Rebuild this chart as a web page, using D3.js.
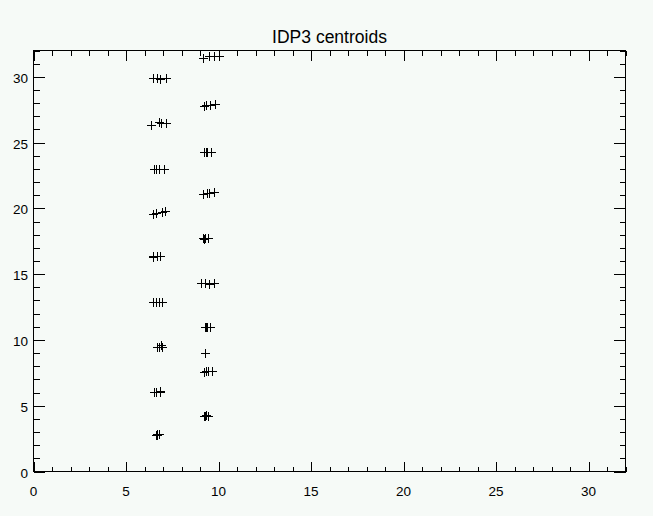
<!DOCTYPE html>
<html>
<head>
<meta charset="utf-8">
<script src="https://cdn.jsdelivr.net/npm/d3@7/dist/d3.min.js"></script>
<style>
  html, body { margin: 0; padding: 0; background: #f6faf7; }
  svg { display: block; }
  text { font-family: "Liberation Sans", "DejaVu Sans", sans-serif; fill: #000; }
</style>
</head>
<body>
<svg id="chart" width="653" height="516"></svg>
<script>
// ---- data ----
const title = "IDP3 centroids";
const xTickValues = [0, 5, 10, 15, 20, 25, 30];
const yTickValues = [0, 5, 10, 15, 20, 25, 30];
const xDomain = [0, 32];
const yDomain = [0, 32];

// left column of centroids
const leftX = [6.45, 6.70, 6.82, 7.17,  6.35, 6.76, 6.89, 7.17,  6.49, 6.63, 6.79, 7.08,
               6.45, 6.63, 6.94, 7.12,  6.45, 6.48, 6.67, 6.85,  6.45, 6.62, 6.79, 6.97,
               6.67, 6.81, 6.89, 6.95,  6.52, 6.63, 6.85, 6.83,  6.60, 6.67, 6.76, 6.70];
const leftY = [29.88, 29.90, 29.86, 29.90,  26.36, 26.55, 26.50, 26.48,  23.02, 23.00, 23.03, 23.02,
               19.60, 19.63, 19.72, 19.82,  16.36, 16.32, 16.38, 16.36,  12.89, 12.90, 12.88, 12.90,
               9.48, 9.50, 9.60, 9.46,      6.03, 6.06, 6.10, 6.04,      2.80, 2.88, 2.86, 2.75];

// right column of centroids
const rightX = [9.14, 9.46, 9.73, 10.00,  9.19, 9.32, 9.55, 9.82,  9.19, 9.30, 9.37, 9.59,
                9.14, 9.37, 9.50, 9.78,   9.14, 9.28, 9.43, 9.20,  9.06, 9.28, 9.50, 9.73,
                9.28, 9.30, 9.55, 9.40,   9.28,
                9.19, 9.32, 9.43, 9.64,   9.19, 9.32, 9.43, 9.25];
const rightY = [31.43, 31.60, 31.55, 31.55,  27.80, 27.85, 27.85, 27.90,  24.28, 24.30, 24.28, 24.30,
                21.12, 21.15, 21.20, 21.25,  17.75, 17.78, 17.72, 17.70,  14.29, 14.30, 14.28, 14.32,
                10.95, 11.00, 11.02, 10.98,  9.02,
                7.60, 7.62, 7.63, 7.66,      4.22, 4.26, 4.24, 4.20];

// ---- layout ----
const svg = d3.select("#chart");
const L = 33.5, R = 625.5, T = 50.5, B = 471.5;

const x = d3.scaleLinear().domain(xDomain).range([L, R]);
const y = d3.scaleLinear().domain(yDomain).range([B, T]);

svg.append("rect").attr("width", 653).attr("height", 516).attr("fill", "#f6faf7");

const g = svg.append("g").attr("shape-rendering", "crispEdges");

// frame
g.append("rect").attr("x", L).attr("y", T).attr("width", R - L).attr("height", B - T)
  .attr("fill", "none").attr("stroke", "#000").attr("stroke-width", 1);

const xMinor = d3.range(xDomain[0], xDomain[1] + 0.001, 1).filter(v => v % 5 !== 0);
const yMinor = d3.range(yDomain[0], yDomain[1] + 0.001, 1).filter(v => v % 5 !== 0);

// x ticks (bottom and top), inward
function xTicks(vals, len) {
  vals.forEach(v => {
    const px = Math.round(x(v)) + 0.5;
    g.append("line").attr("x1", px).attr("x2", px).attr("y1", B).attr("y2", B - len).attr("stroke", "#000");
    g.append("line").attr("x1", px).attr("x2", px).attr("y1", T).attr("y2", T + len).attr("stroke", "#000");
  });
}
function yTicks(vals, len) {
  vals.forEach(v => {
    const py = Math.round(y(v)) + 0.5;
    g.append("line").attr("y1", py).attr("y2", py).attr("x1", L).attr("x2", L + len).attr("stroke", "#000");
    g.append("line").attr("y1", py).attr("y2", py).attr("x1", R).attr("x2", R - len).attr("stroke", "#000");
  });
}
xTicks(xTickValues, 10);
xTicks(xMinor, 5);
yTicks(yTickValues, 11.5);
yTicks(yMinor, 6);

// tick labels
svg.append("g").selectAll("text").data(xTickValues).join("text")
  .attr("x", d => x(d)).attr("y", 496)
  .attr("text-anchor", "middle").attr("font-size", 13.5)
  .text(d => d);

svg.append("g").selectAll("text").data(yTickValues).join("text")
  .attr("x", 28).attr("y", d => y(d) + 6)
  .attr("text-anchor", "end").attr("font-size", 13.5)
  .text(d => d);

// title
svg.append("text").attr("x", (L + R) / 2).attr("y", 43)
  .attr("text-anchor", "middle").attr("font-size", 17.5).text(title);

// plus markers
const s = 4.5;
function plus(d) {
  const px = Math.round(x(d[0])) + 0.5, py = Math.round(y(d[1])) + 0.5;
  return `M${px - s},${py}H${px + s}M${px},${py - s}V${py + s}`;
}
const pts = leftX.map((v, i) => [v, leftY[i]]).concat(rightX.map((v, i) => [v, rightY[i]]));
svg.append("g").attr("shape-rendering", "crispEdges").selectAll("path").data(pts).join("path")
  .attr("d", plus).attr("stroke", "#000").attr("stroke-width", 1).attr("fill", "none");
</script>
</body>
</html>
